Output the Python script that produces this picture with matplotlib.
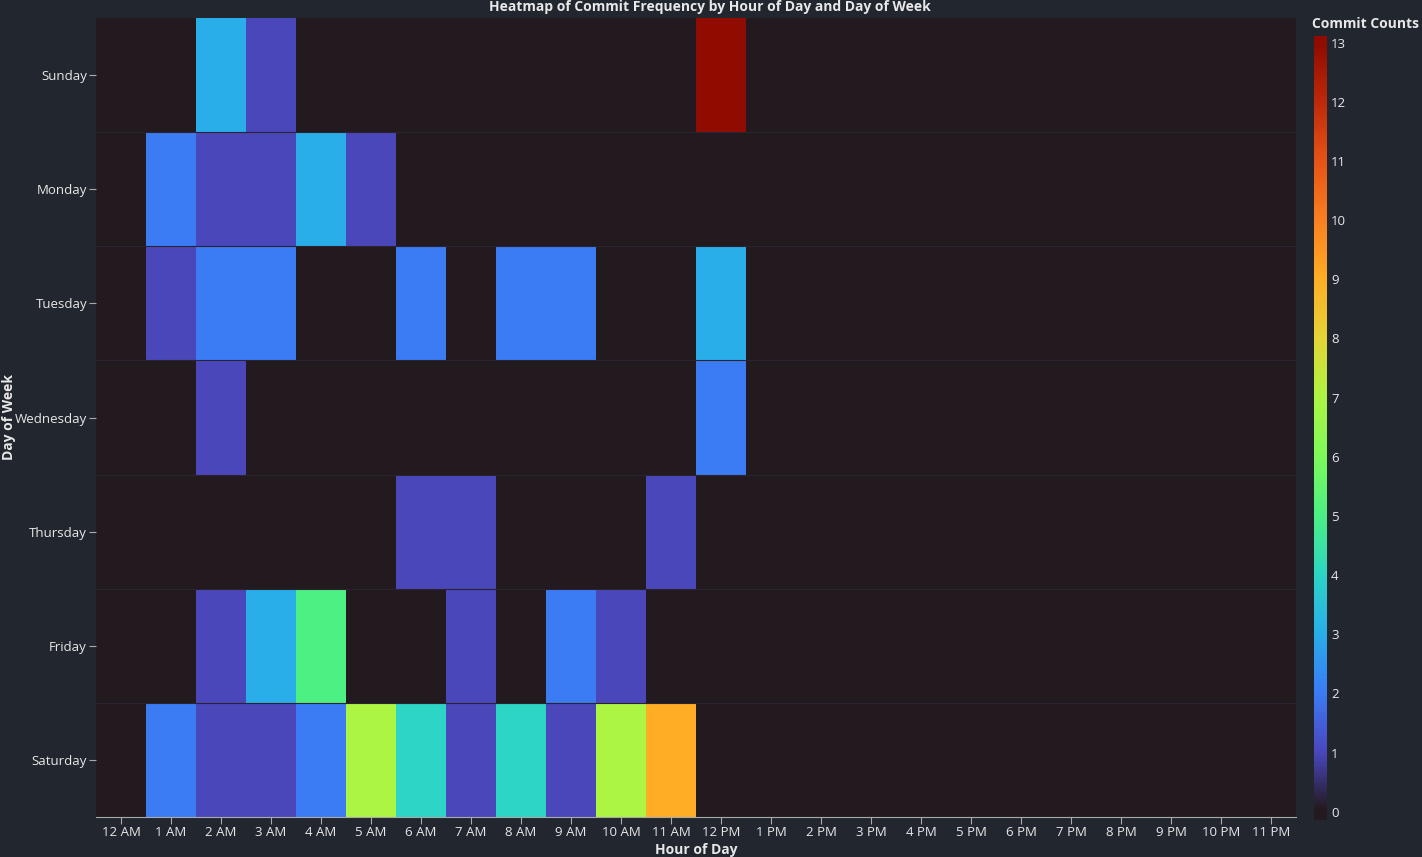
import numpy as np
import matplotlib
matplotlib.use("Agg")
import matplotlib.pyplot as plt
from matplotlib.colors import LinearSegmentedColormap

days = ["Sunday", "Monday", "Tuesday", "Wednesday", "Thursday", "Friday", "Saturday"]
hours = ["12 AM"] + [f"{h} AM" for h in range(1, 12)] + ["12 PM"] + [f"{h} PM" for h in range(1, 12)]

sunday    = [0, 0, 3, 1, 0, 0, 0, 0, 0, 0, 0, 0, 13, 0, 0, 0, 0, 0, 0, 0, 0, 0, 0, 0]
monday    = [0, 2, 1, 1, 3, 1, 0, 0, 0, 0, 0, 0, 0, 0, 0, 0, 0, 0, 0, 0, 0, 0, 0, 0]
tuesday   = [0, 1, 2, 2, 0, 0, 2, 0, 2, 2, 0, 0, 3, 0, 0, 0, 0, 0, 0, 0, 0, 0, 0, 0]
wednesday = [0, 0, 1, 0, 0, 0, 0, 0, 0, 0, 0, 0, 2, 0, 0, 0, 0, 0, 0, 0, 0, 0, 0, 0]
thursday  = [0, 0, 0, 0, 0, 0, 1, 1, 0, 0, 0, 1, 0, 0, 0, 0, 0, 0, 0, 0, 0, 0, 0, 0]
friday    = [0, 0, 1, 3, 5, 0, 0, 1, 0, 2, 1, 0, 0, 0, 0, 0, 0, 0, 0, 0, 0, 0, 0, 0]
saturday  = [0, 2, 1, 1, 2, 7, 4, 1, 4, 1, 7, 9, 0, 0, 0, 0, 0, 0, 0, 0, 0, 0, 0, 0]

z = np.array([sunday, monday, tuesday, wednesday, thursday, friday, saturday], dtype=float)
zmin, zmax = 0, 13

BG = "#22262e"
TXT = "#e8e8e8"
cmap_colors = ["#231a1f", "#4b48c0", "#3b7cf5", "#29aeea", "#2cd6c4", "#4cf083",
               "#7ef95a", "#adf542", "#e4d536", "#ffae25", "#f98020", "#e75417",
               "#bf2a0b", "#900c00"]
cmap = LinearSegmentedColormap.from_list("commit", cmap_colors)

plt.rcParams["font.family"] = ["Open Sans", "DejaVu Sans"]

fig = plt.figure(figsize=(14.22, 8.57), dpi=100, facecolor=BG)
W, H = 1422, 857
ax = fig.add_axes([96 / W, 1 - 817 / H, 1200 / W, 799 / H])
ax.set_facecolor(BG)

mesh = ax.pcolormesh(np.arange(25) - 0.5, np.arange(8) - 0.5, z, cmap=cmap, vmin=zmin, vmax=zmax)
ax.set_xlim(-0.5, 23.5)
ax.set_ylim(6.5, -0.5)
for yb in np.arange(0.5, 6.5, 1):
    ax.axhline(yb, color="#2b2430", lw=0.8, zorder=3)

ax.set_xticks(range(24))
ax.set_xticklabels(hours)
ax.set_yticks(range(7))
ax.set_yticklabels(days)
ax.tick_params(axis="both", colors="#aaaaaa", labelcolor=TXT, labelsize=9.5, length=5, width=0.8, pad=1.5)
for s in ["top", "right", "left"]:
    ax.spines[s].set_visible(False)
ax.spines["bottom"].set_color("#aaaaaa")
ax.spines["bottom"].set_linewidth(0.8)

ax.set_xlabel("Hour of Day", color=TXT, fontsize=10, fontweight="bold")
ax.set_ylabel("Day of Week", color=TXT, fontsize=10, fontweight="bold")
ax.yaxis.set_label_coords(-0.067, 0.5)
ax.xaxis.set_label_coords(0.5, -0.032)

fig.text(710 / W, 1 - 7 / H, "Heatmap of Commit Frequency by Hour of Day and Day of Week",
         ha="center", va="center", color=TXT, fontsize=10, fontweight="bold")

# colorbar (bar extends slightly beyond the tick range, as in the reference)
lo, hi = -0.14, 13.11
cax = fig.add_axes([1314 / W, 1 - 820 / H, 13 / W, 784 / H])
grad = np.clip(np.linspace(lo, hi, 512), zmin, zmax).reshape(-1, 1)
cax.imshow(grad, aspect="auto", origin="lower", cmap=cmap, vmin=zmin, vmax=zmax,
           extent=(0, 1, lo, hi), interpolation="bilinear")
cax.set_ylim(lo, hi)
cax.set_xticks([])
cax.yaxis.tick_right()
cax.set_yticks(range(zmin, zmax + 1))
cax.tick_params(colors=TXT, labelsize=9.5, length=0, pad=3)
for s in cax.spines.values():
    s.set_visible(False)
fig.text(1366 / W, 1 - 24 / H, "Commit Counts", ha="center", va="center",
         color=TXT, fontsize=10, fontweight="bold")

fig.savefig("out.png", dpi=100, facecolor=BG)
